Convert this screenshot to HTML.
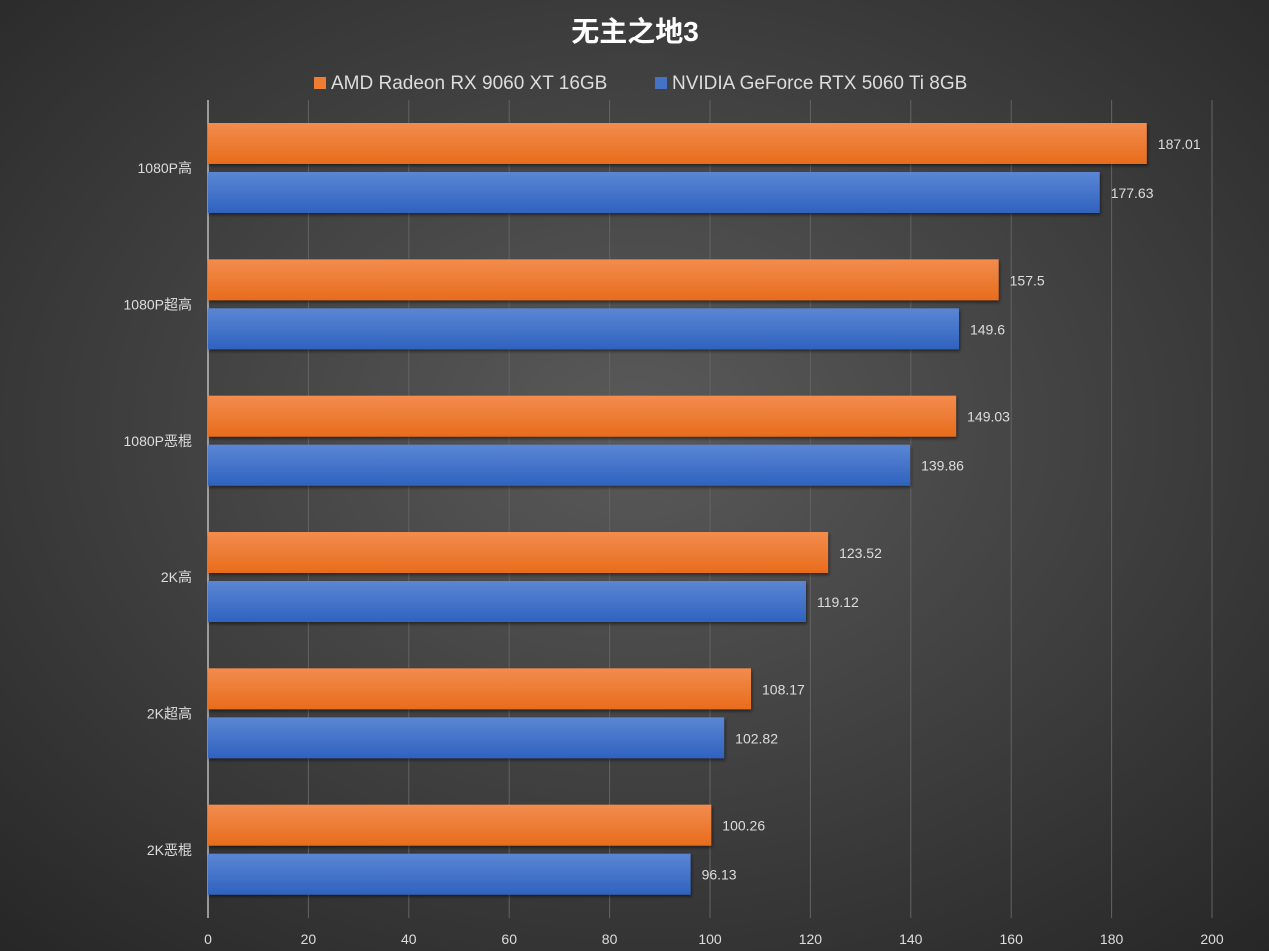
<!DOCTYPE html>
<html><head><meta charset="utf-8"><style>
html,body{margin:0;padding:0;width:1269px;height:951px;overflow:hidden;background:#3a3a3a}
svg{display:block}
text{font-family:"Liberation Sans","Noto Sans CJK SC",sans-serif}
</style></head><body>
<svg id="chart" width="1269" height="951">
<defs>
<radialGradient id="bg" cx="50%" cy="45%" r="75%">
<stop offset="0" stop-color="#5a5a5a"/><stop offset="1" stop-color="#262626"/>
</radialGradient>
<linearGradient id="gO" x1="0" y1="0" x2="0" y2="1">
<stop offset="0" stop-color="#f28c4e"/><stop offset="1" stop-color="#e86c1c"/>
</linearGradient>
<linearGradient id="gB" x1="0" y1="0" x2="0" y2="1">
<stop offset="0" stop-color="#5b86d4"/><stop offset="1" stop-color="#2f62bf"/>
</linearGradient>
<filter id="sh" x="-5%" y="-20%" width="110%" height="160%"><feDropShadow dx="1" dy="2" stdDeviation="1.5" flood-color="#000" flood-opacity="0.5"/></filter>
</defs>
<rect width="1269" height="951" fill="url(#bg)"/>
<text x="635" y="41" text-anchor="middle" font-size="28" font-weight="bold" fill="#fff">无主之地3</text>
<g>
<g><rect x="314" y="77" width="12" height="12" fill="#ed7d31"/><text x="331" y="89" font-size="19" fill="#ddd">AMD Radeon RX 9060 XT 16GB</text></g>
<g><rect x="655" y="77" width="12" height="12" fill="#4472c4"/><text x="672" y="89" font-size="19" fill="#ddd">NVIDIA GeForce RTX 5060 Ti 8GB</text></g>
</g>
<g id="grid"></g><g id="bars"></g><g id="labels"></g>
</svg>
<script>
const categories=["1080P高","1080P超高","1080P恶棍","2K高","2K超高","2K恶棍"];
const amdValues=[187.01,157.5,149.03,123.52,108.17,100.26];
const nvValues=[177.63,149.6,139.86,119.12,102.82,96.13];
const xTicks=[0,20,40,60,80,100,120,140,160,180,200];
const NS="http://www.w3.org/2000/svg";
const X0=208,X1=1212,Y0=100,Y1=918;
const xs=v=>X0+(v-xTicks[0])/(xTicks[xTicks.length-1]-xTicks[0])*(X1-X0);
const band=(Y1-Y0)/categories.length;
function mk(t,a,p){const e=document.createElementNS(NS,t);for(const k in a)e.setAttribute(k,a[k]);p.appendChild(e);return e;}
const grid=document.getElementById('grid'),bars=document.getElementById('bars'),labels=document.getElementById('labels');
xTicks.forEach(t=>{
 const l=mk('line',{x1:xs(t),x2:xs(t),y1:Y0,y2:Y1,stroke:t===0?'#bbb':'#636363','stroke-width':t===0?1.5:1},grid);
 
 
 const tx=mk('text',{x:xs(t),y:944,'text-anchor':'middle','font-size':14,fill:'#ddd'},labels);
 tx.textContent=t;
 
 
});
categories.forEach((c,i)=>{
 const top=Y0+i*band;
 const tl=mk('text',{x:192,y:top+band/2+5,'text-anchor':'end','font-size':14,fill:'#ddd'},labels);
 tl.textContent=c;
 
 
 [[amdValues[i],'url(#gO)',23,'amd'],[nvValues[i],'url(#gB)',72,'nvidia']].forEach(([v,f,off,s])=>{
  const r=mk('rect',{x:X0,y:top+off,width:xs(v)-X0,height:41,fill:f,filter:'url(#sh)'},bars);
  
  
  const vt=mk('text',{x:xs(v)+11,y:top+off+26,'font-size':14,fill:'#ddd'},labels);
  vt.textContent=v;
  
  
 });
});
</script>
</body></html>
